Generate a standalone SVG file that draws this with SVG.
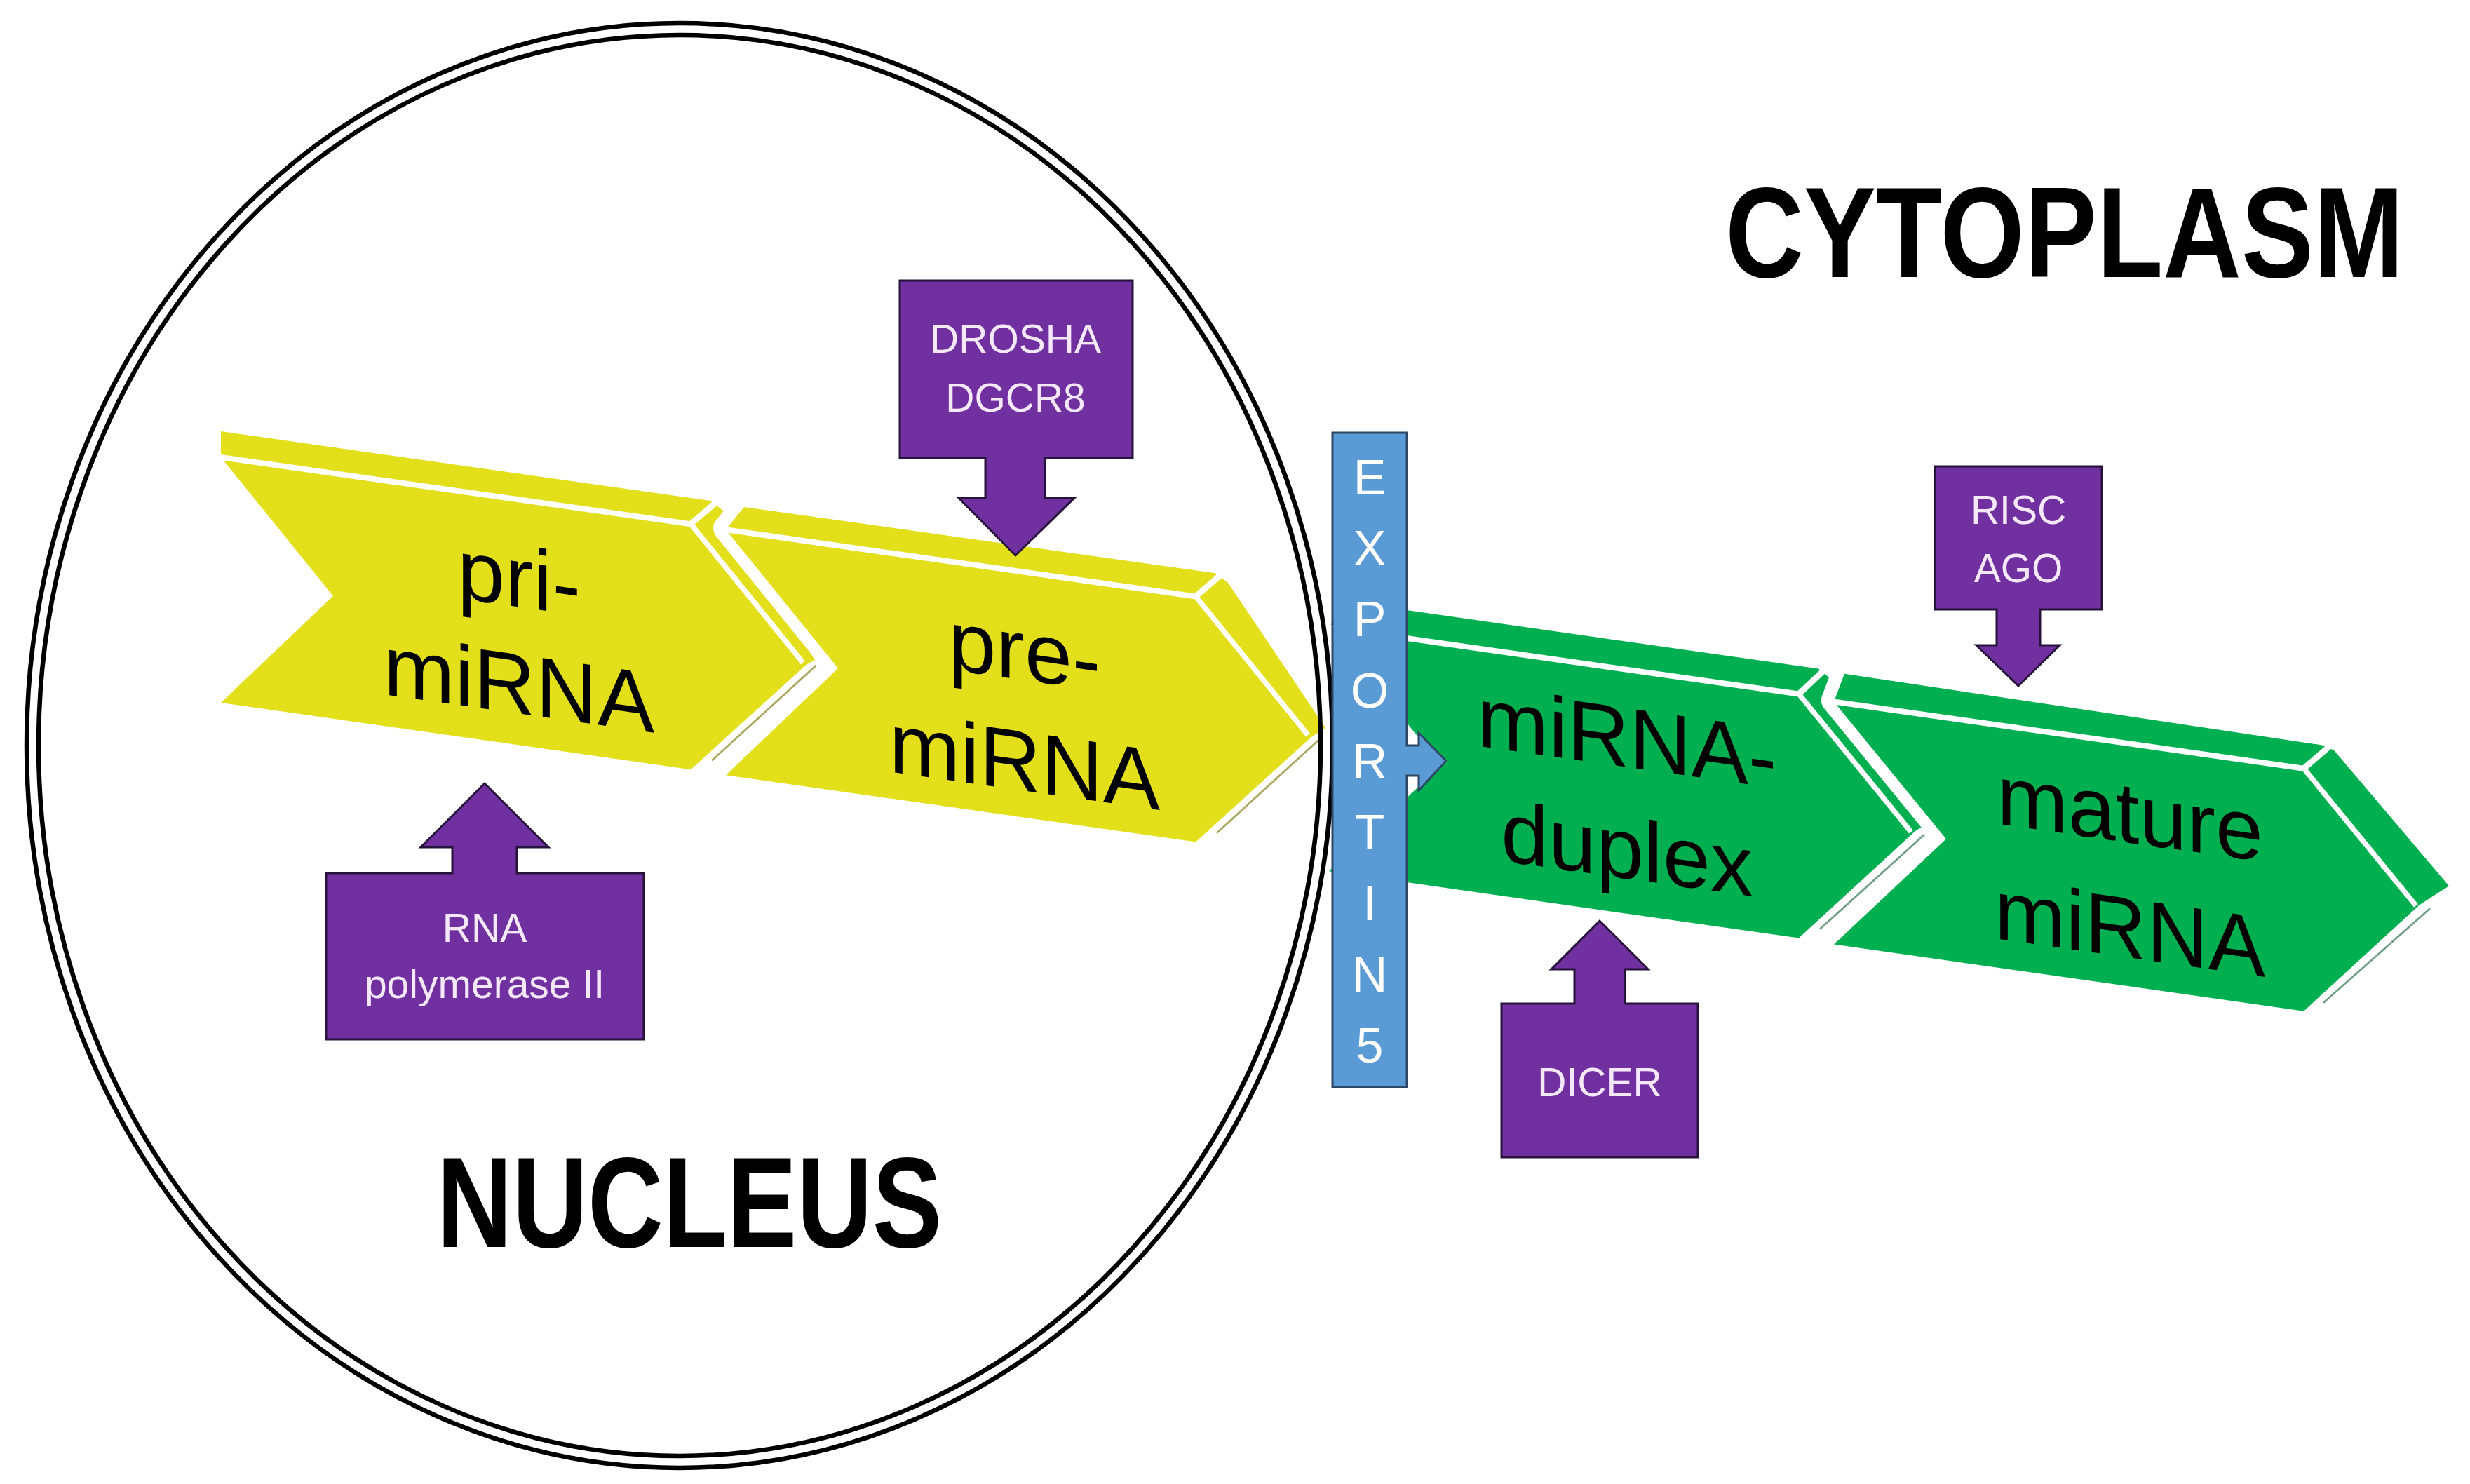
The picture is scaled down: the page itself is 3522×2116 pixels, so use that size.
<svg xmlns="http://www.w3.org/2000/svg" width="3522" height="2116" viewBox="0 0 3522 2116">
<style>
.yel{fill:#E3DF1A}
.grn{fill:#00B050}
.halo{fill:#fff;stroke:#fff;stroke-width:36;stroke-linejoin:round}
.sep{fill:none;stroke:#fff;stroke-width:8;stroke-linejoin:miter}
.bevy{fill:none;stroke:#aaa65e;stroke-width:2.5}
.bevg{fill:none;stroke:#6e9e82;stroke-width:2.5}
.lbl{font-family:"Liberation Sans",Arial,sans-serif;font-size:122px;fill:#000;text-anchor:middle}
.pur{fill:#7030A0;stroke:#26123a;stroke-width:3;stroke-linejoin:miter}
.ptx{font-family:"Liberation Sans",Arial,sans-serif;font-size:57px;fill:#F5E8FA;text-anchor:middle}
.exp{fill:#5B9BD5;stroke:#2c4866;stroke-width:3}
.etx{font-family:"Liberation Sans",Arial,sans-serif;font-size:70px;fill:#fff;text-anchor:middle}
.big{font-family:"Liberation Sans",Arial,sans-serif;font-weight:bold;font-size:184px;fill:#000}
.nuc{fill:none;stroke:#000;stroke-width:6.5}
</style>
<rect width="3522" height="2116" fill="#fff"/>
<g id="chevrons" transform="matrix(1,0.142,0,1,0,-44.73)">
  <g id="pri-miRNA">
    <polygon class="yel" points="315,615 1013,615 1032,627 1162,821 1150,829 985,1002 315,1002 475,827 315,652"/>
    <polyline class="sep" points="315,652 985,652 1145,827"/>
    <line class="sep" x1="985" y1="652" x2="1021" y2="616"/>
    <line class="bevy" x1="1164" y1="828" x2="1015" y2="985"/>
    <text class="lbl" x="740" y="805">pri-</text>
    <text class="lbl" x="740" y="957">miRNA</text>
  </g>
  <g id="pre-miRNA">
    <polygon class="halo" points="1035,653 1061,617 1733,616 1751,627 1890,814 1870,830 1705,1003 1035,1003 1195,828"/>
    <polygon class="yel" points="1035,653 1061,617 1733,616 1751,627 1890,814 1870,830 1705,1003 1035,1003 1195,828"/>
    <polyline class="sep" points="1035,653 1705,653 1865,828"/>
    <line class="sep" x1="1705" y1="653" x2="1741" y2="617"/>
    <line class="bevy" x1="1884" y1="829" x2="1735" y2="986"/>
    <text class="lbl" x="1461" y="807">pre-</text>
    <text class="lbl" x="1461" y="965">miRNA</text>
  </g>
  <g id="miRNA-duplex">
    <polygon class="grn" points="1895,670 1921,630 2593,630 2609,641 2761,819 2731,842 2565,1018 1895,1018 2055,844"/>
    <polyline class="sep" points="1895,670 2565,670 2725,844"/>
    <line class="sep" x1="2565" y1="670" x2="2601" y2="631"/>
    <line class="bevg" x1="2744" y1="845" x2="2595" y2="1001"/>
    <text class="lbl" x="2320" y="809">miRNA-</text>
    <text class="lbl" x="2320" y="968">duplex</text>
  </g>
  <g id="mature-miRNA">
    <polygon class="halo" points="2615,674 2630,632 3311,637 3328,642 3492,812 3450,845 3285,1020 2615,1020 2775,847"/>
    <polygon class="grn" points="2615,674 2630,632 3311,637 3328,642 3492,812 3450,845 3285,1020 2615,1020 2775,847"/>
    <polyline class="sep" points="2615,674 3285,674 3445,847"/>
    <line class="sep" x1="3285" y1="674" x2="3321" y2="638"/>
    <line class="bevg" x1="3465" y1="848" x2="3313" y2="1004"/>
    <text class="lbl" x="3037" y="815">mature</text>
    <text class="lbl" x="3037" y="979">miRNA</text>
  </g>
</g>
<g id="nucleus">
  <ellipse class="nuc" cx="969" cy="1063" rx="931" ry="1030"/>
  <ellipse class="nuc" cx="969" cy="1063" rx="914" ry="1013"/>
  <text class="big" transform="translate(983,1778) scale(0.81,1)" text-anchor="middle" x="0" y="0">NUCLEUS</text>
</g>
<g id="cytoplasm">
  <text class="big" transform="translate(2944,395) scale(0.84,1)" text-anchor="middle" x="0" y="0">CYTOPLASM</text>
</g>
<g id="exportin5">
  <path class="exp" d="M1900,617 H2006 V1063 H2023 V1045 L2062,1085 L2023,1127 V1106 H2006 V1550 H1900 Z"/>
  <text class="etx" x="1953" y="705">E</text>
  <text class="etx" x="1953" y="806">X</text>
  <text class="etx" x="1953" y="907">P</text>
  <text class="etx" x="1953" y="1009">O</text>
  <text class="etx" x="1953" y="1110">R</text>
  <text class="etx" x="1953" y="1211">T</text>
  <text class="etx" x="1953" y="1312">I</text>
  <text class="etx" x="1953" y="1414">N</text>
  <text class="etx" x="1953" y="1515">5</text>
</g>
<g id="drosha">
  <path class="pur" d="M1283,400 H1615 V653 H1490 V710 H1532 L1448,792 L1367,710 H1405 V653 H1283 Z"/>
  <text class="ptx" x="1448" y="503">DROSHA</text>
  <text class="ptx" x="1448" y="587">DGCR8</text>
</g>
<g id="rna-pol">
  <path class="pur" d="M465,1245 H645 V1208 H600 L691,1117 L782,1208 H737 V1245 H918 V1482 H465 Z"/>
  <text class="ptx" x="691" y="1343">RNA</text>
  <text class="ptx" x="691" y="1423">polymerase II</text>
</g>
<g id="risc">
  <path class="pur" d="M2759,665 H2997 V869 H2909 V920 H2937 L2878,978 L2818,920 H2847 V869 H2759 Z"/>
  <text class="ptx" x="2878" y="747">RISC</text>
  <text class="ptx" x="2878" y="830">AGO</text>
</g>
<g id="dicer">
  <path class="pur" d="M2141,1431 H2245 V1382 H2212 L2281,1313 L2350,1382 H2317 V1431 H2421 V1650 H2141 Z"/>
  <text class="ptx" x="2281" y="1563">DICER</text>
</g>
<g id="connectors"/>
</svg>
